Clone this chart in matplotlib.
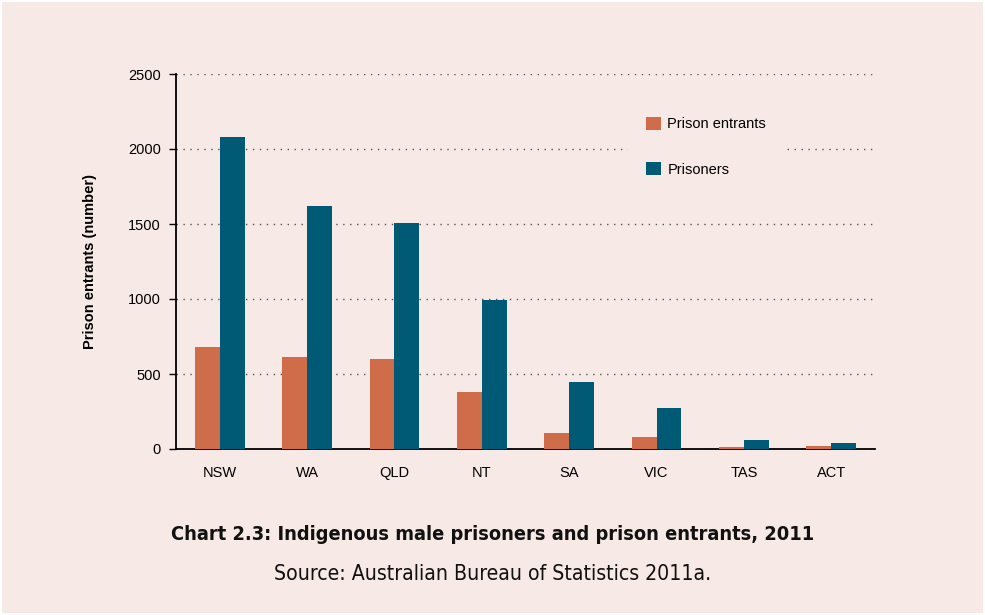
import matplotlib
matplotlib.use("Agg")
import matplotlib.pyplot as plt
import numpy as np

categories = ["NSW", "WA", "QLD", "NT", "SA", "VIC", "TAS", "ACT"]
prison_entrants = [680, 613, 600, 380, 108, 80, 13, 20]
prisoners = [2080, 1620, 1507, 993, 447, 273, 62, 42]
yticks = [0, 500, 1000, 1500, 2000, 2500]

BG = "#F7E9E5"
ORANGE = "#CF6D4A"
BLUE = "#005A75"

fig = plt.figure(figsize=(9.85, 6.15), dpi=100)
fig.patch.set_facecolor("white")
bgrect = plt.Rectangle((2/985, 2/615), 981/985, 611/615, transform=fig.transFigure,
                       facecolor=BG, edgecolor="none", zorder=-10)
fig.patches.append(bgrect)

ax = fig.add_axes([176/985, 1 - 449/615, (875-176)/985, (449-74)/615])
ax.set_facecolor(BG)

x = np.arange(len(categories))
w = 0.285
ax.bar(x - w/2, prison_entrants, width=w, color=ORANGE, label="Prison entrants", zorder=3)
ax.bar(x + w/2, prisoners, width=w, color=BLUE, label="Prisoners", zorder=3)

ax.set_xlim(-0.5, len(categories) - 0.5)
ax.set_ylim(0, 2500)
ax.set_yticks(yticks)
ax.set_yticklabels([str(v) for v in yticks], fontsize=10.5, family="Liberation Sans")
ax.set_xticks(x)
ax.set_xticklabels(categories, fontsize=10.5, family="Liberation Sans")
ax.tick_params(axis="x", length=0, pad=12)
ax.tick_params(axis="y", length=5, width=1, pad=6, direction="out")
ax.yaxis.grid(True, linestyle=(0, (1, 4)), color="#555555", linewidth=1)
ax.set_axisbelow(True)
for s in ["top", "right"]:
    ax.spines[s].set_visible(False)
ax.spines["left"].set_linewidth(1.3)
ax.spines["bottom"].set_linewidth(1.3)
ax.set_ylabel("Prison entrants (number)", fontsize=10.5, fontweight="bold",
              family="Liberation Sans", labelpad=22)

leg = ax.legend(loc="upper left", bbox_to_anchor=((628-176)/699, (449-99)/375),
                frameon=True, prop={"family": "Liberation Sans", "size": 10.5},
                handlelength=1.05, handleheight=1.0, labelspacing=2.15, borderpad=1.2,
                handletextpad=0.45, framealpha=1, borderaxespad=0)
leg.get_frame().set_facecolor(BG)
leg.get_frame().set_edgecolor("none")
leg.set_zorder(5)

tfam = ["DejaVu Sans"]
fig.text(0.5, 1 - 535/615, "Chart 2.3: Indigenous male prisoners and prison entrants, 2011",
         ha="center", va="center", fontsize=14.3, fontweight="bold", fontstretch="condensed",
         family=tfam, color="#111111")
fig.text(0.5, 1 - 574/615, "Source: Australian Bureau of Statistics 2011a.",
         ha="center", va="center", fontsize=15.2, fontstretch="condensed",
         family=tfam, color="#111111")

fig.savefig("out.png", dpi=100, facecolor=fig.get_facecolor())
